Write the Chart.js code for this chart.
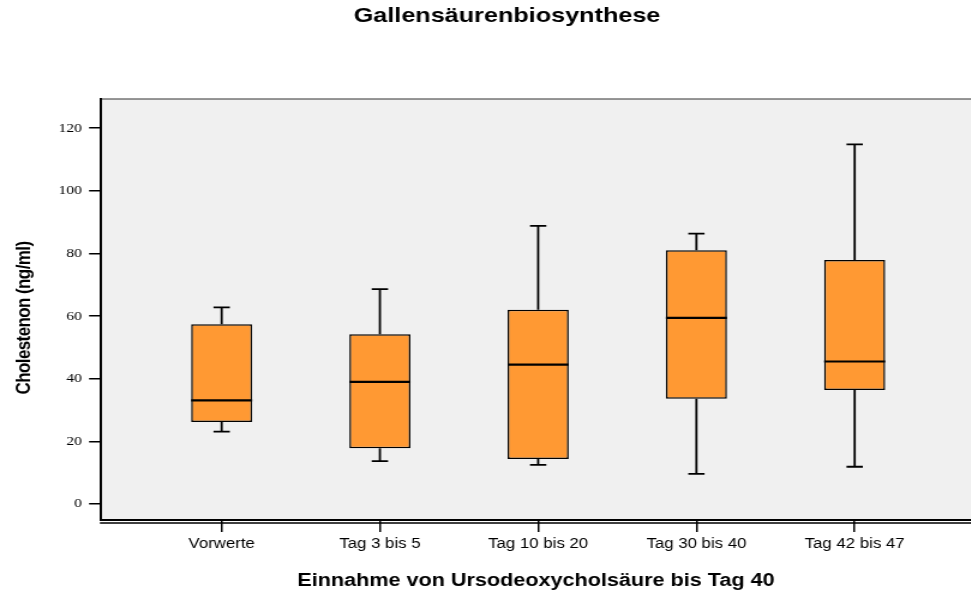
<html>
<!-- Boxplot Gallensäurenbiosynthese with Chart.js (floating bars + whisker plugin) -->
<head>
  <script src="https://cdn.jsdelivr.net/npm/chart.js@4.4.0/dist/chart.umd.min.js"></script>
  <style>
    body{margin:0;background:#fff}
    #wrap{width:971px;height:593px;overflow:hidden}
    /* the source picture is stretched sideways, so the canvas is too */
    #bp{transform:scaleX(1.2);transform-origin:0 0}
  </style>
</head>
<body>
<div id="wrap">
  <canvas id="bp" width="809" height="593"></canvas>
</div>
<script>
  wl=f=>window.addEventListener('load',f);
  eb=s=>document.getElementById(s);

  // data
  var cats = ['Vorwerte', 'Tag 3 bis 5', 'Tag 10 bis 20', 'Tag 30 bis 40', 'Tag 42 bis 47'];
  var wLow  = [23.1, 13.7, 12.5,  9.6, 11.9];
  var q1    = [26.2, 17.8, 14.4, 33.6, 36.4];
  var med   = [33.1, 39.0, 44.5, 59.4, 45.5];
  var q3    = [57.4, 54.2, 62.0, 81.0, 77.9];
  var wHigh = [62.8, 68.6, 88.8, 86.3, 114.8];
  var yTicks = [0, 20, 40, 60, 80, 100, 120];

  var sans = 'Liberation Sans, Arial, sans-serif';

  // background, frame, whiskers, medians, titles
  var bxp = {
    id: 'bxp',
    beforeDraw(c){
      var a = c.chartArea, x = c.ctx;
      x.save();
      x.fillStyle = '#f0f0f0';
      x.fillRect(a.left, a.top, a.right - a.left, a.bottom - a.top);
      x.strokeStyle = '#333';
      x.lineWidth = 1.2;
      x.beginPath();
      x.moveTo(a.left, a.top); x.lineTo(a.right, a.top);
      x.stroke();
      x.restore();
    },
    afterDatasetsDraw(c){
      var x = c.ctx, sx = c.scales.x, sy = c.scales.y;
      var m = c.getDatasetMeta(0);
      x.save();
      x.strokeStyle = '#000';
      x.lineWidth = 1.8;
      cats.forEach((k, i) => {
        var px = sx.getPixelForValue(i), hw = m.data[i].width / 2, cw = 6.8;
        x.beginPath();
        x.moveTo(px, sy.getPixelForValue(q3[i])); x.lineTo(px, sy.getPixelForValue(wHigh[i]));
        x.moveTo(px, sy.getPixelForValue(q1[i])); x.lineTo(px, sy.getPixelForValue(wLow[i]));
        x.moveTo(px - cw, sy.getPixelForValue(wHigh[i])); x.lineTo(px + cw, sy.getPixelForValue(wHigh[i]));
        x.moveTo(px - cw, sy.getPixelForValue(wLow[i])); x.lineTo(px + cw, sy.getPixelForValue(wLow[i]));
        x.stroke();
        x.lineWidth = 2.2;
        x.beginPath();
        x.moveTo(px - hw, sy.getPixelForValue(med[i])); x.lineTo(px + hw, sy.getPixelForValue(med[i]));
        x.stroke();
        x.lineWidth = 1.8;
      });
      x.restore();
    },
    afterDraw(c){
      var a = c.chartArea, x = c.ctx;
      x.save();
      // second bottom line
      x.strokeStyle = '#000';
      x.lineWidth = 1.5;
      x.beginPath();
      x.moveTo(a.left - 1, a.bottom + 3); x.lineTo(a.right, a.bottom + 3);
      x.stroke();
      // title
      x.fillStyle = '#000';
      x.textAlign = 'center';
      x.textBaseline = 'middle';
      x.font = 'bold 21px ' + sans;
      x.fillText('Gallensäurenbiosynthese', 422.5, 16);
      // y title, a bit condensed like the original
      x.translate(20.8, 318);
      x.rotate(-Math.PI / 2);
      x.font = 'bold 17px ' + sans;
      x.letterSpacing = '-0.6px';
      x.fillText('Cholestenon (ng/ml)', 0, 0);
      x.restore();
    }
  };

  var bp;
  function bpi(){
    bp = new Chart(eb('bp'), {
      type: 'bar',
      data: {
        datasets: [{
          data: cats.map((k, i) => ({x: i, y: [q1[i], q3[i]]})),
          backgroundColor: '#ff9933',
          borderColor: '#000',
          borderWidth: 1.5,
          borderSkipped: false,
          categoryPercentage: 1,
          barPercentage: 0.386
        }]
      },
      plugins: [bxp],
      options: {
        responsive: false,
        animation: false,
        layout: {padding: {top: 99, right: 0, left: 0, bottom: 0}},
        plugins: {
          legend: {display: false},
          title: {display: false},
          tooltip: {enabled: false}
        },
        scales: {
          x: {
            type: 'linear',
            offset: false,
            min: -0.762,
            max: 4.734,
            afterFit: s => { s.height = 73; },
            afterBuildTicks: s => { s.ticks = cats.map((k, i) => ({value: i})); },
            grid: {offset: false, drawOnChartArea: false, drawTicks: true, tickLength: 12, color: '#000', lineWidth: 1.5},
            border: {display: true, color: '#000', width: 2},
            ticks: {
              callback: v => cats[v],
              color: '#000',
              padding: 4,
              maxRotation: 0,
              font: {family: sans, size: 14}
            },
            title: {
              display: true,
              text: 'Einnahme von Ursodeoxycholsäure bis Tag 40',
              color: '#000',
              padding: {top: 0, bottom: 1},
              font: {family: sans, size: 18, weight: 'bold'}
            }
          },
          y: {
            min: -5.1,
            max: 129.3,
            afterFit: s => { s.width = 84.2; },
            afterBuildTicks: s => { s.ticks = yTicks.map(v => ({value: v})); },
            grid: {drawOnChartArea: false, drawTicks: true, tickLength: 10, color: '#000', lineWidth: 1.5},
            border: {display: true, color: '#000', width: 2},
            ticks: {
              color: '#000',
              padding: 6,
              font: {family: 'Liberation Serif, Times New Roman, serif', size: 13}
            }
          }
        }
      }
    });
  }
  wl(bpi);
</script>
</body>
</html>
